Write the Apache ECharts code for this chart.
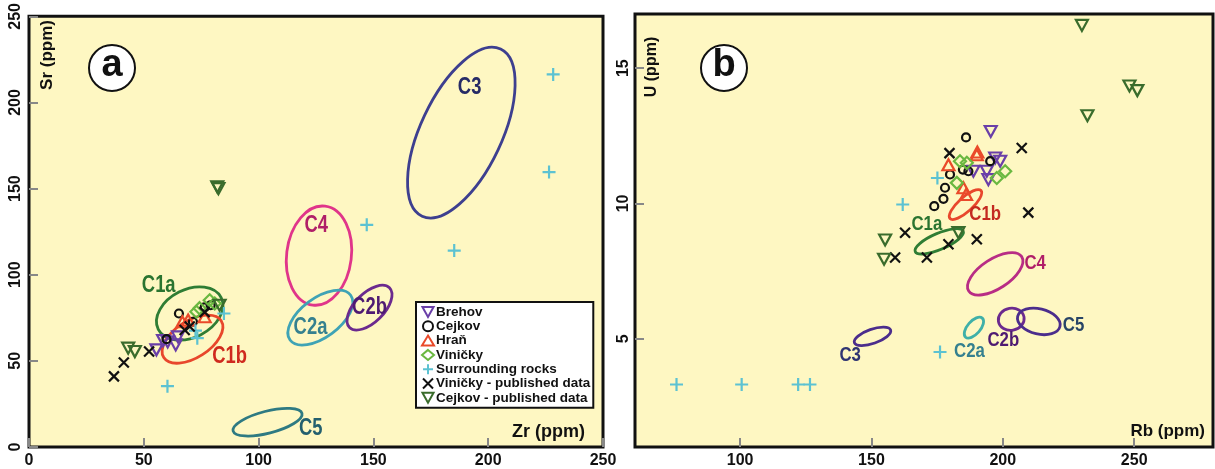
<!DOCTYPE html>
<html>
<head>
<meta charset="utf-8">
<style>
  html, body { margin: 0; padding: 0; background: #fff; }
  #chart { width: 1215px; height: 469px; }
</style>
<script src="https://cdn.jsdelivr.net/npm/echarts@6/dist/echarts.min.js"></script>
</head>
<body>
<div id="chart"></div>
<script>
// --- data (panel a: Zr vs Sr, panel b: Rb vs U) ---
const seriesNames = ["Brehov", "Cejkov", "Hraň", "Viničky", "Surrounding rocks",
  "Viničky - published data", "Cejkov - published data"];

// panel a  [Zr, Sr]
const brehovA = [[55.5, 56.4], [58.4, 61.8], [63.9, 59.3], [64.9, 63.9], [60.4, 61]];
const cejkovA = [[65.3, 77.5], [59.9, 62.6], [71.4, 72.7], [76.5, 81], [79.1, 82.3]];
const hranA = [[66.8, 72.7], [69.3, 73.7], [76.5, 75.6]];
const vinickyA = [[72.9, 78.5], [78.7, 85.2], [80.9, 83.3], [74.3, 80.6]];
const surroundA = [[84.9, 77.5], [73.3, 63.2], [72.5, 67.5], [60.3, 35.3], [147.1, 129],
  [185.2, 114], [226.5, 159.6], [228.3, 216.3]];
const vinickyPubA = [[37, 41], [41.3, 49.1], [52.3, 55.4], [67.8, 67.9], [76.5, 78.3], [70, 70]];
const cejkovPubA = [[43.2, 57.4], [46.1, 55.4], [82, 151], [82.5, 150], [83, 82.3]];

// panel b  [Rb, U]
const brehovB = [[195.4, 12.66], [197.1, 11.68], [199, 11.56], [188.8, 11.19], [193.9, 11.19], [194.5, 10.88]];
const cejkovB = [[186, 12.44], [195.2, 11.56], [184.8, 11.25], [179.9, 11.07], [178, 10.58],
  [177.4, 10.17], [173.9, 9.9], [186.9, 11.19]];
const hranB = [[190.1, 11.8], [190.3, 11.9], [179.3, 11.43], [185, 10.58], [186, 10.33]];
const vinickyB = [[183.7, 11.56], [186.3, 11.5], [182.5, 10.76], [200.9, 11.19], [197.7, 10.94]];
const surroundB = [[75.8, 3.31], [100.6, 3.31], [122.1, 3.31], [126.6, 3.31], [175.1, 10.94],
  [161.9, 9.96], [176.1, 4.51]];
const vinickyPubB = [[179.7, 11.86], [207.2, 12.05], [209.7, 9.66], [162.8, 8.92], [179.3, 8.49],
  [190.1, 8.68], [159, 8.0], [171.1, 8.0]];
const cejkovPubB = [[155.2, 8.65], [154.8, 7.94], [183.1, 8.92], [230.1, 16.58], [248.2, 14.34],
  [251.2, 14.17], [232.2, 13.24]];

// ellipses: [centre x, centre y, major semi-axis dx, major semi-axis dy, minor/major ratio]
const ellipseNames = ["C3", "C4", "C2a", "C2b", "C5", "C1a", "C1b"];
const ellipsesA = [
  [188.3, 182.5, 17.1, 48.5, 0.44],
  [126.3, 111.1, 2.66, 28.7, 0.65],
  [126.9, 75.1, 13.2, 13.0, 0.52],
  [148.3, 80.9, 8.7, 11.5, 0.52],
  [103.9, 14.4, 15.0, 5.1, 0.31],
  [70, 77.5, 13.7, 9.2, 0.68],
  [71.2, 62.6, 12.5, 10.7, 0.54]
];
const ellipsesB = [
  [150.4, 5.09, 6.89, 0.235, 0.37],
  [197.1, 7.4, 10.08, 0.635, 0.47],
  [189, 5.41, 3.18, 0.352, 0.51],
  [203.2, 5.72, 4.87, 0.083, 0.85],
  [213.7, 5.64, 8.05, -0.187, 0.58],
  [175.8, 8.6, 9.13, 0.379, 0.31],
  [185.8, 9.96, 5.9, 0.517, 0.34]
];
// label anchor of each ellipse name
const labelPosA = [[191.9, 208.8], [125.1, 128.4], [122.6, 69.4], [148.3, 80.9], [122.7, 10.9], [56.5, 93.8], [87.4, 52.2]];
const labelPosB = [[141.9, 4.39], [212.3, 7.79], [187.3, 4.53], [200.2, 4.94], [226.9, 5.49], [171.1, 9.23], [193.3, 9.6]];

const ticksBx = [100, 150, 200, 250];
const ticksBy = [5, 10, 15];

// --- styles ---
const FONT = "'Liberation Sans', Arial, sans-serif";
const ellipseColorA = { C3: "#3d3f8f", C4: "#e0358a", C2a: "#3fa3b5", C2b: "#6b2a8e", C5: "#2e7a82", C1a: "#2f7d34", C1b: "#e8472c" };
const ellipseColorB = { C3: "#4b2d8c", C4: "#b82d85", C2a: "#3fb0a8", C2b: "#6b2a8e", C5: "#4b2d8c", C1a: "#2f7d34", C1b: "#e8472c" };
const labelColorA = { C3: "#262b66", C4: "#b01f68", C2a: "#35808f", C2b: "#4e1a72", C5: "#235f6e", C1a: "#2a7430", C1b: "#cf2a1e" };
const labelColorB = { C3: "#2f3472", C4: "#b01f68", C2a: "#35808f", C2b: "#4e1a72", C5: "#284466", C1a: "#2a7430", C1b: "#c42a20" };

const DOWN = "path://M0,0L10,0L5,9Z";
const PLUS = "path://M5,0L5,10M0,5L10,5";
const CROSS = "path://M0,0L10,10M10,0L0,10";
const markerStyle = {
  "Brehov": { symbol: DOWN, symbolSize: [12, 11], color: "#6a3fa8" },
  "Cejkov": { symbol: "circle", symbolSize: 8, color: "#111111" },
  "Hraň": { symbol: "triangle", symbolSize: [12, 11], color: "#ea4a2a" },
  "Viničky": { symbol: "diamond", symbolSize: 12, color: "#6ab840" },
  "Surrounding rocks": { symbol: PLUS, symbolSize: 13, color: "#5cc2d2" },
  "Viničky - published data": { symbol: CROSS, symbolSize: 10, color: "#111111" },
  "Cejkov - published data": { symbol: DOWN, symbolSize: [12, 11], color: "#3a6c2c" }
};
const dataA = [brehovA, cejkovA, hranA, vinickyA, surroundA, vinickyPubA, cejkovPubA];
const dataB = [brehovB, cejkovB, hranB, vinickyB, surroundB, vinickyPubB, cejkovPubB];

function pointSeries(name, data, idx) {
  const m = markerStyle[name];
  return {
    name, type: "scatter", xAxisIndex: idx, yAxisIndex: idx, data,
    symbol: m.symbol, symbolSize: m.symbolSize,
    itemStyle: { color: "rgba(0,0,0,0)", borderColor: m.color, borderWidth: 2.2, opacity: 1 },
    z: 5
  };
}

function ellipseSeries(list, idx, colors) {
  return {
    type: "custom", xAxisIndex: idx, yAxisIndex: idx, silent: true, z: 3,
    data: list,
    renderItem: (params, api) => {
      const c = api.coord([api.value(0), api.value(1)]);
      const e = api.coord([api.value(0) + api.value(2), api.value(1) + api.value(3)]);
      const dx = e[0] - c[0], dy = e[1] - c[1];
      const a = Math.hypot(dx, dy);
      return {
        type: "ellipse",
        x: c[0], y: c[1],
        rotation: -Math.atan2(dy, dx),
        shape: { cx: 0, cy: 0, rx: a, ry: a * api.value(4) },
        style: { fill: "none", stroke: colors[ellipseNames[params.dataIndex]], lineWidth: 2.8 }
      };
    }
  };
}

// ellipse names, drawn narrow like the original condensed lettering
function labelSeries(pos, idx, colors, size) {
  return {
    type: "custom", xAxisIndex: idx, yAxisIndex: idx, silent: true, z: 4,
    data: pos,
    renderItem: (params, api) => {
      const p = api.coord([api.value(0), api.value(1)]);
      const name = ellipseNames[params.dataIndex];
      return {
        type: "text", x: p[0], y: p[1], scaleX: 0.8,
        style: { text: name, fill: colors[name], font: "bold " + size + "px " + FONT, align: "center", verticalAlign: "middle" }
      };
    }
  };
}

const tickLabel = { color: "#111", fontFamily: FONT, fontWeight: "bold", fontSize: 16 };
const tickLine = { show: true, inside: true, length: 9, lineStyle: { color: "#888", width: 2 } };

const chart = echarts.init(document.getElementById("chart"), null, { renderer: "canvas" });
chart.setOption({
  animation: false,
  backgroundColor: "#fff",
  grid: [
    { left: 29, top: 14, width: 574, height: 434, show: true, backgroundColor: "#fef7c2", borderColor: "#111", borderWidth: 3 },
    { left: 635, top: 14, width: 578, height: 436, show: true, backgroundColor: "#fef7c2", borderColor: "#111", borderWidth: 3 }
  ],
  xAxis: [
    { gridIndex: 0, type: "value", min: 0, max: 250, interval: 50, splitLine: { show: false },
      axisLine: { show: false }, axisTick: tickLine, axisLabel: Object.assign({ margin: 6 }, tickLabel) },
    { gridIndex: 1, type: "value", min: 60, max: 280, splitLine: { show: false },
      axisLine: { show: false }, axisTick: Object.assign({ customValues: ticksBx }, tickLine),
      axisLabel: Object.assign({ margin: 6, customValues: ticksBx }, tickLabel) }
  ],
  yAxis: [
    { gridIndex: 0, type: "value", min: 0, max: 250, interval: 50, splitLine: { show: false },
      axisLine: { show: false }, axisTick: tickLine, axisLabel: Object.assign({ rotate: 90, margin: 5 }, tickLabel) },
    { gridIndex: 1, type: "value", min: 1, max: 17, splitLine: { show: false },
      axisLine: { show: false }, axisTick: Object.assign({ customValues: ticksBy }, tickLine),
      axisLabel: Object.assign({ rotate: 90, margin: 3, customValues: ticksBy }, tickLabel) }
  ],
  legend: {
    data: seriesNames,
    orient: "vertical", left: 416, top: 302,
    itemWidth: 12, itemHeight: 10, itemGap: 0.3,
    padding: [3, 3, 3, 5],
    backgroundColor: "#fff", borderColor: "#111", borderWidth: 2, borderRadius: 0,
    textStyle: { color: "#111", fontFamily: FONT, fontWeight: "bold", fontSize: 13.5, lineHeight: 13, padding: [0, 0, 0, -3] },
    selectedMode: false, z: 10
  },
  graphic: [
    { type: "text", x: 47, y: 55, rotation: Math.PI / 2,
      style: { text: "Sr (ppm)", fill: "#111", font: "bold 17px " + FONT, align: "center", verticalAlign: "middle" } },
    { type: "text", x: 585, y: 432,
      style: { text: "Zr (ppm)", fill: "#111", font: "bold 18px " + FONT, align: "right", verticalAlign: "middle" } },
    { type: "text", x: 652, y: 67, rotation: Math.PI / 2,
      style: { text: "U (ppm)", fill: "#111", font: "bold 16px " + FONT, align: "center", verticalAlign: "middle" } },
    { type: "text", x: 1205, y: 431,
      style: { text: "Rb (ppm)", fill: "#111", font: "bold 17px " + FONT, align: "right", verticalAlign: "middle" } },
    { type: "circle", shape: { cx: 112, cy: 68, r: 23 }, style: { fill: "#fff", stroke: "#111", lineWidth: 2 } },
    { type: "text", x: 112, y: 66, style: { text: "a", fill: "#111", font: "bold 38px " + FONT, align: "center", verticalAlign: "middle" } },
    { type: "circle", shape: { cx: 724, cy: 68, r: 23 }, style: { fill: "#fff", stroke: "#111", lineWidth: 2 } },
    { type: "text", x: 724, y: 66, style: { text: "b", fill: "#111", font: "bold 38px " + FONT, align: "center", verticalAlign: "middle" } }
  ],
  series: [
    ellipseSeries(ellipsesA, 0, ellipseColorA),
    ellipseSeries(ellipsesB, 1, ellipseColorB),
    labelSeries(labelPosA, 0, labelColorA, 23),
    labelSeries(labelPosB, 1, labelColorB, 21),
    ...seriesNames.map((n, i) => pointSeries(n, dataA[i], 0)),
    ...seriesNames.map((n, i) => pointSeries(n, dataB[i], 1))
  ]
});
</script>
</body>
</html>
